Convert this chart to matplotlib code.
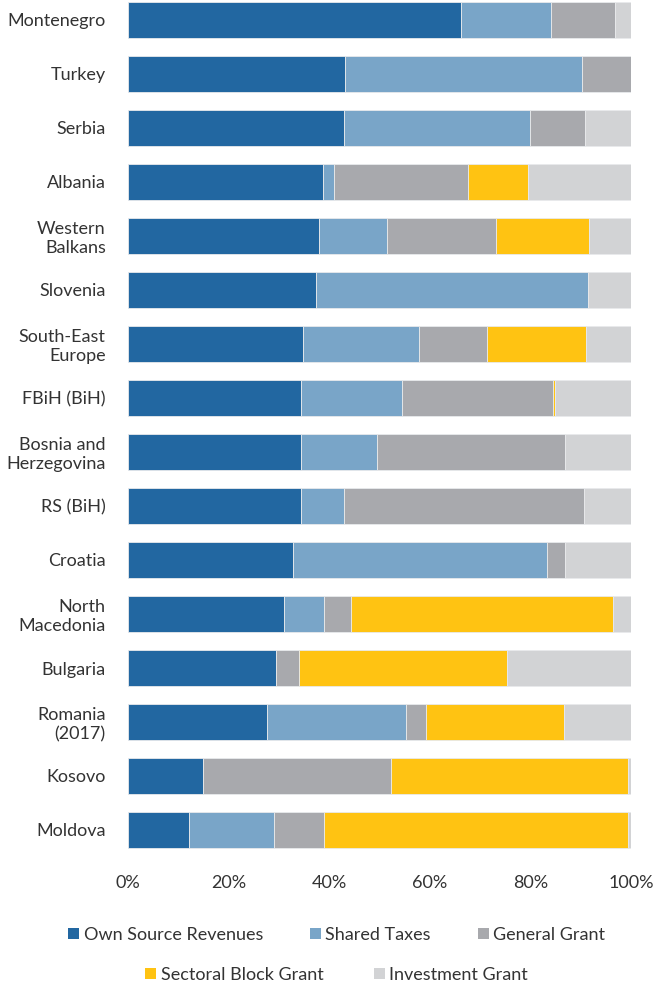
import matplotlib.pyplot as plt
from matplotlib.patches import Patch
from matplotlib.ticker import FuncFormatter

plt.rcParams['font.family'] = ['Lato', 'DejaVu Sans']

countries = ['Montenegro', 'Turkey', 'Serbia', 'Albania', 'Western\nBalkans',
             'Slovenia', 'South-East\nEurope', 'FBiH (BiH)', 'Bosnia and\nHerzegovina',
             'RS (BiH)', 'Croatia', 'North\nMacedonia', 'Bulgaria', 'Romania\n(2017)',
             'Kosovo', 'Moldova']

# shares of local revenue, percent
own_source = [66.2, 43.1, 42.9, 38.7, 37.9, 37.3, 34.7, 34.3, 34.3, 34.3, 32.9, 31.1, 29.5, 27.7, 15.0, 12.2]
shared_taxes = [17.9, 47.1, 37.0, 2.3, 13.5, 54.2, 23.1, 20.1, 15.3, 8.6, 50.4, 7.8, 0.0, 27.5, 0.0, 16.8]
general_grant = [12.7, 9.8, 10.9, 26.6, 21.7, 0.0, 13.6, 30.0, 37.3, 47.7, 3.6, 5.4, 4.5, 4.0, 37.2, 9.9]
sectoral_grant = [0.0, 0.0, 0.0, 11.9, 18.6, 0.0, 19.7, 0.5, 0.0, 0.0, 0.0, 52.1, 41.3, 27.5, 47.2, 60.5]
investment_grant = [3.2, 0.0, 9.2, 20.5, 8.3, 8.5, 8.9, 15.1, 13.1, 9.4, 13.1, 3.6, 24.7, 13.3, 0.6, 0.6]

series = [
    ('Own Source Revenues', own_source, '#2267a1'),
    ('Shared Taxes', shared_taxes, '#79a5c8'),
    ('General Grant', general_grant, '#a8a9ad'),
    ('Sectoral Block Grant', sectoral_grant, '#ffc312'),
    ('Investment Grant', investment_grant, '#d2d3d5'),
]

fig = plt.figure(figsize=(6.54, 9.85), dpi=100)
ax = fig.add_axes([128 / 654, 1 - 860 / 985, 503 / 654, 860 / 985])

ypos = list(range(len(countries)))
left = [0.0] * len(countries)
for name, vals, col in series:
    ax.barh(ypos, vals, left=left, height=0.67, color=col,
            edgecolor='#e8eaec', linewidth=0.6)
    left = [a + b for a, b in zip(left, vals)]

ax.set_xlim(0, 100)
ax.set_ylim(15 + 30 / 54, -20 / 54)
ax.set_xticks([0, 20, 40, 60, 80, 100])
ax.xaxis.set_major_formatter(FuncFormatter(lambda v, p: f'{v:.0f}%'))
ax.set_yticks(ypos)
ax.set_yticklabels(countries)
ax.tick_params(axis='both', length=0, labelsize=13, colors='#333333')
ax.tick_params(axis='x', pad=11)
ax.tick_params(axis='y', pad=16)
for s in ax.spines.values():
    s.set_visible(False)

handles = [Patch(facecolor=c, edgecolor='none') for _, _, c in series]
names = [n for n, _, _ in series]
leg_kw = dict(frameon=False, fontsize=13, handlelength=0.6, handleheight=0.6,
              handletextpad=0.25, labelcolor='#333333')
fig.legend(handles[:3], names[:3], ncol=3, loc='center',
           bbox_to_anchor=(0.515, 1 - 935 / 985), columnspacing=2.6, **leg_kw)
fig.legend(handles[3:], names[3:], ncol=2, loc='center',
           bbox_to_anchor=(0.515, 1 - 975 / 985), columnspacing=2.8, **leg_kw)

fig.savefig('out.png', dpi=100)
